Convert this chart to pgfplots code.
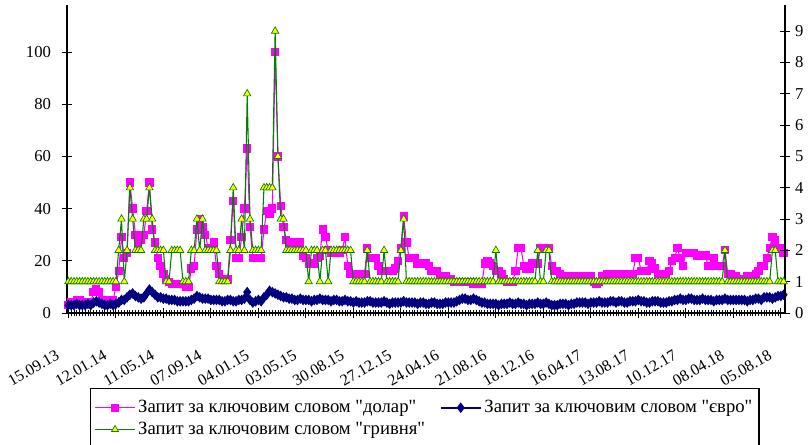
\documentclass[border=0pt]{standalone}
\usepackage{fontspec}
\setmainfont{Liberation Serif}
\usepackage{pgfplots}
\usepackage{pgfplotstable}
\pgfplotsset{compat=1.18}
\definecolor{cpink}{RGB}{255,0,255}
\definecolor{cnavy}{RGB}{0,0,128}
\definecolor{cgreen}{RGB}{0,128,0}
\definecolor{cyellow}{RGB}{255,255,0}

\pgfplotstableread{
i d e g
0 3 3 1
1 4 3 1
2 4 3 1
3 5 3.5 1
4 5 3 1
5 4 3 1
6 4 3 1
7 4 3.5 1
8 4 3 1
9 8 4 1
10 9 4.5 1
11 8 4 1
12 5 3.5 1
13 5 3 1
14 5 3 1
15 5 3.5 1
16 5 3 1
17 10 3.5 1
18 16 4 2
19 29 5 3
20 21 5 1
21 23 6 2
22 50 7 4
23 40 7.5 3
24 30 6.5 2
25 27 6 2
26 28 5.5 2
27 30 6 3
28 39 7.5 3
29 50 9 4
30 32 8 3
31 27 7 2
32 21 6 2
33 18 6 2
34 15 5.5 2
35 13 5.5 1
36 12 5 1
37 11 5 2
38 11 5 2
39 11 4.5 2
40 11 4.5 2
41 11 4.5 1
42 10 4.5 1
43 10 4.5 1
44 17 5 2
45 18 5.5 2
46 32 6.5 3
47 36 6 2
48 33 5.5 3
49 30 5.5 2
50 25 5.5 2
51 25 5 2
52 27 5 2
53 18 5 2
54 15 5 1
55 13 4.5 1
56 13 4.5 1
57 13 5 1
58 28 5 2
59 43 4.5 4
60 21 4.5 2
61 21 5 2
62 29 5 3
63 40 5.5 2
64 63 8 7
65 33 5 3
66 21 4 2
67 21 4.5 2
68 21 5 2
69 21 4.5 2
70 32 6 4
71 39 7 4
72 38 8.5 4
73 40 8 4
74 100 7.5 9
75 60 7 5
76 41 6.5 3
77 33 6 3
78 28 6 2
79 27 5.5 2
80 27 5.5 2
81 27 5 2
82 27 5 2
83 27 5.5 2
84 22 5 2
85 21 5 2
86 19 5 1
87 19 4.5 2
88 19 5 2
89 21 5 2
90 22 5.5 1
91 32 5 2
92 29 5 2
93 24 5 1
94 23 4.5 2
95 23 5 2
96 23 5 2
97 23 4.5 2
98 24 4.5 2
99 29 5 2
100 18 4.5 2
101 15 4.5 2
102 15 4 1
103 15 4.5 1
104 15 4 1
105 15 4 1
106 15 4 1
107 25 4.5 2
108 21 4.5 1
109 21 4 1
110 21 4 1
111 18 4 1
112 16 4 1
113 16 4.5 2
114 16 4 1
115 16 3.5 1
116 16 4 1
117 17 4 1
118 20 4 1
119 25 4 2
120 37 4.5 3
121 27 4 1
122 21 4 1
123 21 4 1
124 21 4 1
125 19 3.5 1
126 19 4 1
127 19 4 1
128 19 3.5 1
129 18 3.5 1
130 16 4 1
131 16 4 1
132 16 3.5 1
133 14 3.5 1
134 14 3.5 1
135 14 4 1
136 13 4 1
137 13 4 1
138 12 4 1
139 12 4.5 1
140 12 5 1
141 12 5.5 1
142 12 5.5 1
143 12 5 1
144 12 5 1
145 11 5.5 1
146 11 5 1
147 11 4.5 1
148 11 4 1
149 19 4 1
150 20 3.5 1
151 19 3.5 1
152 18 3.5 1
153 16 3.5 2
154 16 3 1
155 15 3.5 1
156 13 3.5 1
157 12 3.5 1
158 12 4 1
159 12 3.5 1
160 16 3.5 1
161 25 4 1
162 25 3.5 1
163 18 3.5 1
164 17 3 1
165 17 3.5 1
166 19 3.5 1
167 19 3.5 1
168 19 4 2
169 25 3.5 1
170 25 3.5 1
171 25 4 2
172 25 3.5 2
173 18 3 1
174 16 3 1
175 16 3 1
176 15 3.5 1
177 14 3.5 1
178 14 3.5 1
179 14 3 1
180 14 3.5 1
181 14 3.5 1
182 14 4 1
183 14 4 1
184 14 4 1
185 14 4 1
186 14 3.5 1
187 14 4 1
188 12 4 1
189 11 4 1
190 12 4.5 1
191 14 4 1
192 14 4 1
193 15 4 1
194 15 4.5 1
195 15 4.5 1
196 15 4 1
197 15 4.5 1
198 15 4.5 1
199 15 4 1
200 15 4 1
201 15 4.5 1
202 15 4.5 1
203 21 4.5 1
204 21 5 1
205 16 4.5 1
206 16 4.5 1
207 16 4 1
208 20 4 1
209 19 4.5 1
210 17 4.5 1
211 15 4.5 1
212 15 4 1
213 15 4 1
214 15 4 1
215 16 4.5 1
216 20 4.5 1
217 21 5 1
218 25 5 1
219 21 5.5 1
220 18 5 1
221 23 5 1
222 23 5.5 1
223 23 5.5 1
224 23 5 1
225 22 5 1
226 22 5 1
227 22 5.5 1
228 22 5 1
229 18 5 1
230 18 5 1
231 21 4.5 1
232 18 5 1
233 18 5 1
234 18 5 1
235 24 5.5 2
236 15 5 1
237 15 5 1
238 14 5 1
239 14 5 1
240 13 5 1
241 13 5 1
242 13 5 1
243 14 4.5 1
244 14 5 1
245 14 5 1
246 15 5.5 1
247 16 5.5 1
248 18 5 1
249 18 6 1
250 21 6 1
251 25 6 1
252 29 5.5 2
253 28 6 2
254 25 6.5 1
255 25 6.5 1
256 23 7 1
}\data

\begin{document}
\begin{tikzpicture}
\pgfplotsset{
  common/.style={scale only axis, width=538.5pt, height=231pt,
    xmin=-0.5, xmax=256.5,
    /pgf/number format/assume math mode=true,
    tick align=center, major tick length=8pt, minor tick length=5pt,
    tick style={black, line width=0.6pt},
    axis line style={black, line width=0.8pt},
    yticklabel style={font=\fontsize{12.5}{14}\selectfont}},
}
\begin{axis}[common, axis y line*=left, axis x line*=bottom,
  ymin=0, ymax=118, ytick={0,20,...,100},
  yticklabel style={xshift=-4.5pt},
  xtick={0,17,...,255},
  xticklabels={15.09.13,12.01.14,11.05.14,07.09.14,04.01.15,03.05.15,30.08.15,27.12.15,24.04.16,21.08.16,18.12.16,16.04.17,13.08.17,10.12.17,08.04.18,05.08.18},
  minor x tick num=16,
  xticklabel style={font=\fontsize{12}{14}\selectfont, xshift=-5pt, yshift=-25pt, rotate=30, anchor=east},
  legend columns=2, legend cell align=left,
  legend image code/.code={\draw[mark repeat=2,mark phase=2,#1] plot coordinates {(0pt,0pt) (15pt,0pt) (30pt,0pt)};},
  legend style={at={(0.032,-0.2435)}, anchor=north west, draw=black, line width=0.8pt,
    font=\fontsize{14}{15.5}\selectfont, inner xsep=3pt, inner ysep=7pt, row sep=1.5pt,
    /tikz/every even column/.append style={column sep=9pt}},
]
\addplot[cpink, line width=0.8pt, mark=square*, mark size=2.7pt] table[x=i,y=d]{\data};
\addlegendentry{Запит за ключовим словом \textquotedbl долар\textquotedbl}
\addplot[cnavy, line width=1.5pt, mark=diamond*, mark size=2.8pt] table[x=i,y=e]{\data};
\addlegendentry{Запит за ключовим словом \textquotedbl євро\textquotedbl\hspace{16pt}}
\addlegendimage{cgreen, line width=0.8pt, mark=triangle*, mark size=3pt, mark options={fill=cyellow, draw=cgreen, line width=0.5pt}}
\addlegendentry{Запит за ключовим словом \textquotedbl гривня\textquotedbl}
\end{axis}
\begin{axis}[common, axis y line*=right, axis x line=none,
  ymin=0, ymax=9.8333, ytick={0,1,...,9}]
\addplot[cgreen, line width=0.8pt, mark=triangle*, mark size=3.2pt, mark options={fill=cyellow, draw=cgreen, line width=0.5pt}] table[x=i,y=g]{\data};
\end{axis}
\pgfresetboundingbox
\useasboundingbox (-50.25pt,-99pt) rectangle (556.5pt,234.75pt);
\end{tikzpicture}
\end{document}
